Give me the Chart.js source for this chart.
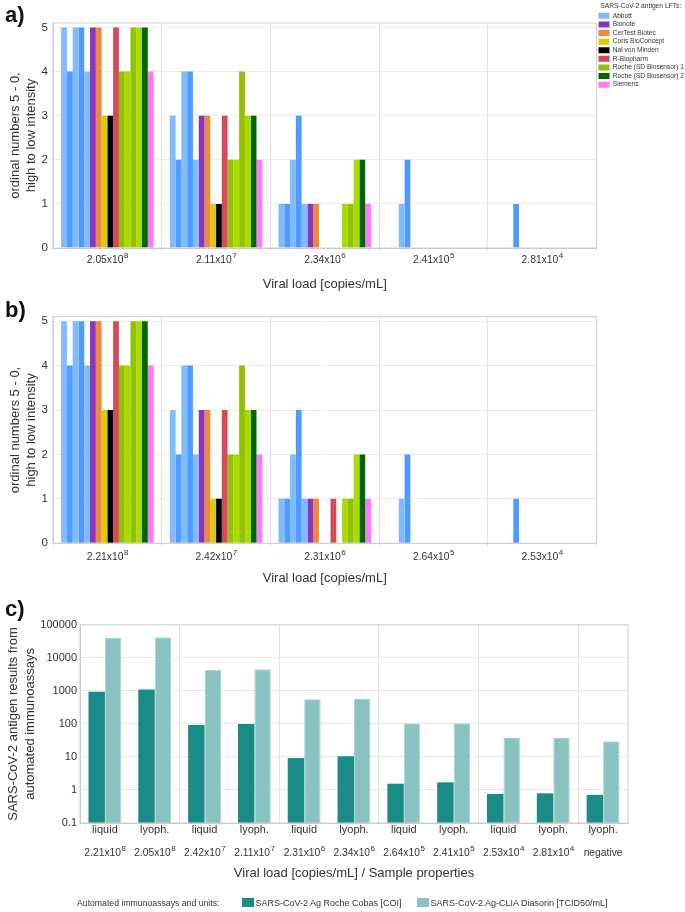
<!DOCTYPE html>
<html>
<head>
<meta charset="utf-8">
<script src="https://cdn.jsdelivr.net/npm/chart.js@4.4.1/dist/chart.umd.min.js"></script>
<style>
  body { margin: 0; background: #fff; font-family: Arial, "Liberation Sans", sans-serif; }
  .panel { position: absolute; left: 0; width: 685px; }
  #legendC { position: absolute; left: 0; top: 896px; width: 685px; height: 14px; color: #333; }
  #legendC span { position: absolute; top: 0; line-height: 14px; white-space: nowrap; }
  #legendC i { position: absolute; top: 2px; width: 12px; height: 9px; }
</style>
</head>
<body>
<div class="panel" style="top:0;height:293px"><canvas id="chartA"></canvas></div>
<div class="panel" style="top:293px;height:297px"><canvas id="chartB"></canvas></div>
<div class="panel" style="top:590px;height:322px"><canvas id="chartC"></canvas></div>
<div id="legendC"></div>
<script>
// viral loads (x categories) for panels a and b, "^" marks the exponent
const loadsA = ['2.05x10^8', '2.11x10^7', '2.34x10^6', '2.41x10^5', '2.81x10^4'];
const loadsB = ['2.21x10^8', '2.42x10^7', '2.31x10^6', '2.64x10^5', '2.53x10^4'];

// one bar per test lot/replicate inside each viral load group
const lftTests = ['Abbott', 'Abbott', 'Abbott', 'Abbott', 'Abbott', 'Bionote', 'CerTest Biotec',
  'Coris BioConcept', 'Nal von Minden', 'R-Biopharm', 'Roche (SD Biosensor) 1', 'Roche (SD Biosensor) 1',
  'Roche (SD Biosensor) 1', 'Roche (SD Biosensor) 1', 'Roche (SD Biosensor) 2', 'Siemens'];
const lftColors = ['#80baff', '#4f9bff', '#80baff', '#4f9bff', '#80baff', '#8a36b8', '#ee8b3a',
  '#dccd00', '#000000', '#d44a57', '#93c000', '#a8dc00', '#93c000', '#a8dc00', '#006600', '#ff77ff'];

// band intensity 5..0, rows follow lftTests, columns follow loads
const scoresA = [
  [5, 3, 1, 0, 0],
  [4, 2, 1, 0, 0],
  [5, 4, 2, 1, 0],
  [5, 4, 3, 2, 1],
  [4, 2, 1, 0, 0],
  [5, 3, 1, 0, 0],
  [5, 3, 1, 0, 0],
  [3, 1, 0, 0, 0],
  [3, 1, 0, 0, 0],
  [5, 3, 0, 0, 0],
  [4, 2, 0, 0, 0],
  [4, 2, 1, 0, 0],
  [5, 4, 1, 0, 0],
  [5, 3, 2, 0, 0],
  [5, 3, 2, 0, 0],
  [4, 2, 1, 0, 0]
];
const scoresB = [
  [5, 3, 1, 0, 0],
  [4, 2, 1, 0, 0],
  [5, 4, 2, 1, 0],
  [5, 4, 3, 2, 1],
  [4, 2, 1, 0, 0],
  [5, 3, 1, 0, 0],
  [5, 3, 1, 0, 0],
  [3, 1, 0, 0, 0],
  [3, 1, 0, 0, 0],
  [5, 3, 1, 0, 0],
  [4, 2, 0, 0, 0],
  [4, 2, 1, 0, 0],
  [5, 4, 1, 0, 0],
  [5, 3, 2, 0, 0],
  [5, 3, 2, 0, 0],
  [4, 2, 1, 0, 0]
];

// panel c
const samplesC = ['liquid', 'lyoph.', 'liquid', 'lyoph.', 'liquid', 'lyoph.', 'liquid', 'lyoph.', 'liquid', 'lyoph.', 'lyoph.'];
const loadsC = ['2.21x10^8', '2.05x10^8', '2.42x10^7', '2.11x10^7', '2.31x10^6', '2.34x10^6',
  '2.64x10^5', '2.41x10^5', '2.53x10^4', '2.81x10^4', 'negative'];
const rocheCobas = [950, 1100, 93, 100, 9.3, 10.5, 1.55, 1.7, 0.76, 0.79, 0.71];
const diasorin = [40300, 42200, 4300, 4500, 560, 590, 105, 105, 37.5, 37.5, 29.7];
const logTicksC = [0.1, 1, 10, 100, 1000, 10000, 100000];

const FONT = 'Arial, "Liberation Sans", sans-serif';
Chart.defaults.font.family = FONT;
Chart.defaults.color = '#333';

// light frame round the plot area
const framePlugin = {
  id: 'frame',
  afterDraw(chart) {
    const { ctx, chartArea: a } = chart;
    ctx.save();
    ctx.strokeStyle = '#d2d2d2';
    ctx.lineWidth = 1;
    ctx.strokeRect(a.left, a.top, a.right - a.left, a.bottom - a.top);
    ctx.restore();
  }
};

// x labels like 2.05x10^8 with a real raised exponent, placed on the x scale's ticks
function expLabels(labels, dy, size) {
  return {
    id: 'expLabels',
    afterDraw(chart) {
      const ctx = chart.ctx;
      const xs = chart.scales.x;
      const y = chart.chartArea.bottom + dy;
      const baseFont = size + 'px ' + FONT;
      const expFont = (size * 0.78) + 'px ' + FONT;
      ctx.save();
      ctx.fillStyle = '#333';
      ctx.textBaseline = 'middle';
      ctx.textAlign = 'left';
      labels.forEach((lab, i) => {
        const [base, exp] = lab.split('^');
        ctx.font = baseFont;
        const wb = ctx.measureText(base).width;
        ctx.font = expFont;
        const we = exp ? ctx.measureText(exp).width : 0;
        const x0 = xs.getPixelForTick(i) - (wb + we) / 2;
        ctx.font = baseFont;
        ctx.fillText(base, x0, y);
        if (exp) {
          ctx.font = expFont;
          ctx.fillText(exp, x0 + wb + 0.5, y - size * 0.42);
        }
      });
      ctx.restore();
    }
  };
}

function panelTitle(text, padTop, padBottom) {
  return {
    display: true, text: text, align: 'start', color: '#111',
    font: { size: 22, weight: 'bold', lineHeight: 0.75 },
    padding: { top: padTop, bottom: padBottom }
  };
}

function lftChart(id, label, loads, scores, opts) {
  const ctx = document.getElementById(id).getContext('2d');
  return new Chart(ctx, {
    type: 'bar',
    data: {
      labels: loads,
      datasets: scores.map((row, i) => ({
        label: lftTests[i],
        data: row,
        backgroundColor: lftColors[i],
        borderWidth: 0
      }))
    },
    options: {
      responsive: true,
      maintainAspectRatio: false,
      animation: false,
      barPercentage: 1.0,
      categoryPercentage: 0.85,
      layout: { padding: { left: 5, right: opts.padRight, top: 0, bottom: 0 } },
      scales: {
        x: {
          grid: { color: '#e3e3e3', offset: true, tickLength: 3 },
          border: { color: '#c4c4c4' },
          ticks: { display: false },
          title: {
            display: true, text: 'Viral load [copies/mL]', color: '#333',
            font: { size: 13 }, padding: { top: 0, bottom: opts.titlePad }
          },
          afterFit: s => { s.height = opts.xHeight; }
        },
        y: {
          min: 0,
          max: 5.1,
          grid: { color: '#ebebeb', tickLength: 3 },
          border: { color: '#c4c4c4' },
          ticks: { stepSize: 1, includeBounds: false, font: { size: 11.5 }, color: '#333', padding: 2 },
          title: {
            display: true, text: ['ordinal numbers 5 - 0,', 'high to low intensity'], color: '#333',
            font: { size: 13, lineHeight: 1.3 }, padding: { top: 1.5, bottom: 0 }
          },
          afterFit: s => { s.width = 48; }
        }
      },
      plugins: {
        title: panelTitle(label, opts.labelTop, opts.labelBottom),
        tooltip: { enabled: false },
        legend: opts.legend ? {
          display: true,
          position: 'right',
          align: 'start',
          maxWidth: 88.5,
          title: {
            display: true, text: 'SARS-CoV-2 antigen LFTs:', color: '#333',
            font: { size: 6.7 }, padding: { top: 2.5, bottom: 0 }
          },
          labels: {
            boxWidth: 11, boxHeight: 6, padding: 2, color: '#333',
            font: { size: 6.6 },
            // one legend entry per manufacturer
            filter: item => lftTests.indexOf(item.text) === item.datasetIndex
          }
        } : { display: false }
      }
    },
    plugins: [framePlugin, expLabels(loads, opts.tickDy, 10.3)]
  });
}

lftChart('chartA', 'a)', loadsA, scoresA,
  { legend: true, padRight: 0, xHeight: 45, titlePad: 1, labelTop: 7.5, labelBottom: -1, tickDy: 12.5 });
lftChart('chartB', 'b)', loadsB, scoresB,
  { legend: false, padRight: 88.5, xHeight: 46.7, titlePad: 4.2, labelTop: 10, labelBottom: -2.8, tickDy: 13.5 });

const chartC = new Chart(document.getElementById('chartC').getContext('2d'), {
  type: 'bar',
  data: {
    labels: samplesC,
    datasets: [
      {
        label: 'SARS-CoV-2 Ag Roche Cobas [COI]',
        data: rocheCobas,
        backgroundColor: '#1b8b87',
        borderWidth: 0
      },
      {
        label: 'SARS-CoV-2 Ag-CLIA Diasorin [TCID50/mL]',
        data: diasorin,
        backgroundColor: '#88c3c1',
        borderColor: '#a8d4d2',
        borderWidth: 1
      }
    ]
  },
  options: {
    responsive: true,
    maintainAspectRatio: false,
    animation: false,
    barPercentage: 1.0,
    categoryPercentage: 0.66,
    layout: { padding: { left: 5, right: 57, top: 0, bottom: 29 } },
    scales: {
      x: {
        grid: {
          offset: true, drawTicks: false,
          color: c => (c.index % 2 === 0 ? '#e3e3e3' : 'rgba(0,0,0,0)')
        },
        border: { color: '#c4c4c4' },
        ticks: { font: { size: 11 }, color: '#333', padding: 0.5, maxRotation: 0 },
        title: {
          display: true, text: 'Viral load [copies/mL] / Sample properties', color: '#333',
          font: { size: 13 }, padding: { top: 0, bottom: 2.2 }
        },
        afterFit: s => { s.height = 60; }
      },
      y: {
        type: 'logarithmic',
        min: 0.1,
        max: 100000,
        afterBuildTicks: s => { s.ticks = logTicksC.map(v => ({ value: v })); },
        grid: { color: '#e8e8e8', drawTicks: false },
        border: { color: '#c4c4c4' },
        ticks: { font: { size: 11 }, color: '#333', padding: 3, callback: v => String(v) },
        title: {
          display: true, text: ['SARS-CoV-2 antigen results from', 'automated immunoassays'], color: '#333',
          font: { size: 13, lineHeight: 1.3 }, padding: { top: 0, bottom: 0 }
        },
        afterFit: s => { s.width = 75; }
      }
    },
    plugins: {
      title: panelTitle('c)', 12, 6.4),
      tooltip: { enabled: false },
      legend: { display: false }
    }
  },
  plugins: [framePlugin, expLabels(loadsC, 30, 10.3)]
});

// legend row under panel c, built from the chart's datasets
const legendC = document.getElementById('legendC');
const lead = document.createElement('span');
lead.textContent = 'Automated immunoassays and units:';
lead.style.left = '77px';
lead.style.fontSize = '8.7px';
legendC.appendChild(lead);
const legendX = [242, 417];
chartC.data.datasets.forEach((ds, i) => {
  const box = document.createElement('i');
  box.style.left = legendX[i] + 'px';
  box.style.background = ds.backgroundColor;
  const txt = document.createElement('span');
  txt.textContent = ds.label;
  txt.style.left = (legendX[i] + 13.5) + 'px';
  txt.style.fontSize = '9px';
  legendC.appendChild(box);
  legendC.appendChild(txt);
});
</script>
</body>
</html>
